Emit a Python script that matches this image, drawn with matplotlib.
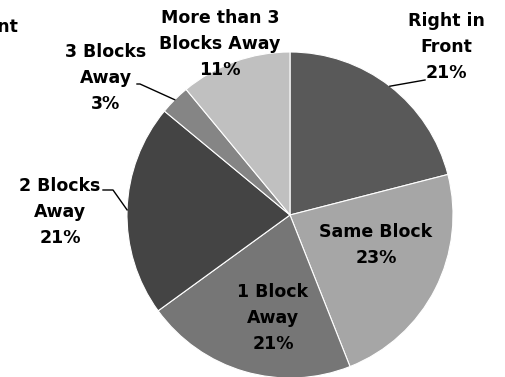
import numpy as np
import matplotlib
matplotlib.use("Agg")
import matplotlib.pyplot as plt

labels = ["Right in\nFront", "Same Block", "1 Block\nAway", "2 Blocks\nAway",
          "3 Blocks\nAway", "More than 3\nBlocks Away"]
shares = [21, 23, 21, 21, 3, 11]
colors = ["#595959", "#a6a6a6", "#767676", "#444444", "#858585", "#c0c0c0"]

# label centres in pixels (x, y from top), leader elbow or None
label_pos = [(446, 47), (376, 245), (273, 318), (60, 212), (106, 78), (220, 44)]
elbows = [(425, 80), None, None, [(113, 190), (103, 190)], [(140, 84), (137, 84)], None]

W, H = 506, 377
cx, cy, R = 290, H - 215, 163

plt.rcParams['font.family'] = ['DejaVu Sans']
fig = plt.figure(figsize=(W / 100, H / 100), dpi=100)
ax = fig.add_axes([0, 0, 1, 1])
wedges, _ = ax.pie(shares, colors=colors, startangle=90, counterclock=False,
                   center=(cx, cy), radius=R,
                   wedgeprops=dict(edgecolor="white", linewidth=0.8))
ax.set_xlim(0, W)
ax.set_ylim(0, H)
ax.set_aspect('equal')
ax.axis('off')

for w, lab, val, pos, elb in zip(wedges, labels, shares, label_pos, elbows):
    ax.text(pos[0], H - pos[1], f"{lab}\n{val}%", ha='center', va='center',
            fontsize=12.5, fontweight='bold', color='black', linespacing=1.55)
    if elb is None:
        continue
    mid = np.deg2rad((w.theta1 + w.theta2) / 2)
    pts = [(cx + R * np.cos(mid), cy + R * np.sin(mid))]
    if isinstance(elb, tuple):
        elb = [elb]
    pts += [(x, H - y) for x, y in elb]
    xs, ys = zip(*pts)
    ax.plot(xs, ys, color='black', lw=1)

# clipped title fragment at the left edge
ax.text(18, H - 27, "Front", ha='right', va='center', fontsize=12.5, fontweight='bold')

fig.savefig("out.png", dpi=100)
